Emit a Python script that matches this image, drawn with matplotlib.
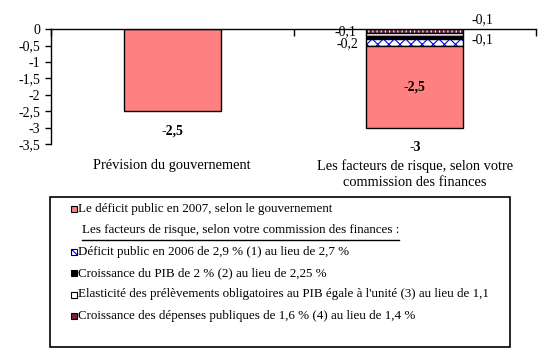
import matplotlib
matplotlib.use("Agg")
import matplotlib.pyplot as plt
from matplotlib.patches import Rectangle
import matplotlib.transforms as mtransforms

plt.rcParams['font.family'] = ['Liberation Serif', 'DejaVu Serif']
plt.rcParams['hatch.linewidth'] = 0.8

# data
categories = ["Prévision du gouvernement",
              "Les facteurs de risque, selon votre\ncommission des finances"]
gouvernement = [-2.5, -2.5]
deficit_2006 = [0.0, -0.2]
croissance_pib = [0.0, -0.1]
elasticite = [0.0, -0.1]
depenses = [0.0, -0.1]
yticks = [0, -0.5, -1, -1.5, -2, -2.5, -3, -3.5]

legend_labels = ["Le déficit public en 2007, selon le gouvernement",
                 "Les facteurs de risque, selon votre commission des finances :",
                 "Déficit public en 2006 de 2,9 % (1) au lieu de 2,7 %",
                 "Croissance du PIB de 2 % (2) au lieu de 2,25 %",
                 "Elasticité des prélèvements obligatoires au PIB égale à l'unité (3) au lieu de 1,1",
                 "Croissance des dépenses publiques de 1,6 % (4) au lieu de 1,4 %"]


def fr(v):
    s = ('%g' % v).replace('.', ',')
    return s


W, H = 539, 357
fig = plt.figure(figsize=(W / 100, H / 100), dpi=100)
ax = fig.add_axes([51 / W, 1 - 144 / H, 485 / W, 114.7 / H])

salmon = '#ff8080'
purple = '#7a1e48'
# order from zero downwards: (values, face, hatch, hatch colour, label offset)
stack = [
    (depenses, purple, '||||', 'white', (68, 11)),
    (elasticite, 'white', None, 'black', (-69, 3)),
    (croissance_pib, 'black', None, 'black', (68, -2)),
    (deficit_2006, 'white', 'xxx', '#0000ff', (-67, -1)),
    (gouvernement, salmon, None, 'black', (0, 0)),
]

x = list(range(len(categories)))
bottom = [0.0] * len(x)
for vals, fc, hatch, hc, off in stack:
    ax.bar(x, vals, 0.4, bottom=bottom, color=fc, edgecolor=hc, hatch=hatch, linewidth=0)
    ax.bar(x, vals, 0.4, bottom=bottom, fill=False, edgecolor='black', linewidth=1)
    # label the stacked column
    if vals[1] != 0:
        yc = bottom[1] + vals[1] / 2
        bold = off == (0, 0)
        ax.annotate(fr(vals[1]), (1, yc), xytext=off, textcoords='offset pixels',
                    ha='center', va='center', fontsize=10,
                    fontweight='bold' if bold else 'normal', annotation_clip=False)
    bottom = [b + v for b, v in zip(bottom, vals)]

# totals under each bar
for i, tot in enumerate(bottom):
    ax.annotate(fr(round(tot, 2)), (i, tot), xytext=(0, -20), textcoords='offset pixels',
                ha='center', va='center', fontsize=10, fontweight='bold',
                annotation_clip=False)

ax.set_xlim(-0.5, 1.5)
ax.set_ylim(-3.5, 0)
ax.set_yticks(yticks)
ax.set_yticklabels([fr(v) for v in yticks], fontsize=10)
ax.tick_params(axis='y', direction='out', length=4.3, width=1, pad=3.6)
ax.xaxis.tick_top()
ax.set_xticks([-0.5, 0.5, 1.5])
ax.set_xticklabels([])
ax.tick_params(axis='x', direction='in', length=5, width=1)
for s in ['right', 'bottom']:
    ax.spines[s].set_visible(False)
ax.spines['top'].set_linewidth(1)
ax.spines['left'].set_linewidth(1)
ax.patch.set_visible(False)

trans = mtransforms.blended_transform_factory(ax.transData, ax.transAxes)
for i, c in enumerate(categories):
    ax.text(i, -0.13, c, transform=trans, ha='center', va='top', fontsize=10.4,
            linespacing=1.3)

# legend drawn in pixel space
lax = fig.add_axes([0, 0, 1, 1], zorder=-1)
lax.set_xlim(0, W)
lax.set_ylim(H, 0)
lax.axis('off')
lax.add_patch(Rectangle((50, 197), 460, 150, fill=False, lw=1.2, edgecolor='black'))
rows = [209, 230.5, 252, 273, 294.5, 316]
markers = [(salmon, None, 'black'), None, ('white', 'xxx', '#0000ff'),
           ('black', None, 'black'), ('white', None, 'black'), (purple, '||', 'white')]
for lab, y, m in zip(legend_labels, rows, markers):
    if m is None:
        t = lax.text(82, y, lab, ha='left', va='center', fontsize=9.4)
        fig.canvas.draw()
        bb = t.get_window_extent().transformed(lax.transData.inverted())
        lax.plot([bb.x0, bb.x1], [y + 9.5, y + 9.5], color='black', lw=1)
        continue
    fc, hatch, hc = m
    lax.add_patch(Rectangle((70.5, y - 3), 6, 6, facecolor=fc, edgecolor=hc, hatch=hatch, lw=0))
    lax.add_patch(Rectangle((70.5, y - 3), 6, 6, fill=False, edgecolor='black', lw=0.8))
    lax.text(78, y, lab, ha='left', va='center', fontsize=9.4)

fig.savefig('out.png', dpi=100)
